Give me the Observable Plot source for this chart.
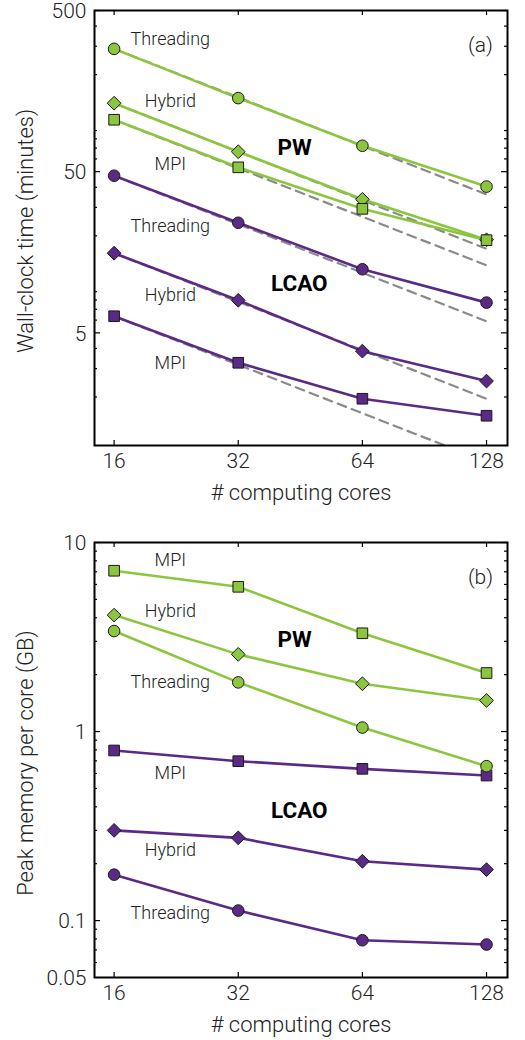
<!DOCTYPE html>
<html>
<head>
<meta charset="utf-8">
<script src="https://cdn.jsdelivr.net/npm/d3@7"></script>
<script src="https://cdn.jsdelivr.net/npm/@observablehq/plot@0.6"></script>
<style>
  html, body { margin: 0; padding: 0; background: #fff; }
  #chart svg { display: block; }
</style>
</head>
<body>
<div id="chart"></div>
<script>
// Number of computing cores on the x axis
const cores = [16, 32, 64, 128];

// (a) Wall-clock time in minutes
const timePwThreading   = [289, 143, 72.4, 40.4];
const timePwHybrid      = [133, 66.5, 33.7, 18.9];
const timePwMpi         = [105, 53.2, 29.4, 18.8];
const timeLcaoThreading = [47.2, 24.1, 12.4, 7.7];
const timeLcaoHybrid    = [15.6, 7.96, 3.85, 2.51];
const timeLcaoMpi       = [6.34, 3.26, 1.95, 1.53];

// (b) Peak memory per core in GB
const memPwMpi          = [7.09, 5.83, 3.31, 2.04];
const memPwHybrid       = [4.13, 2.56, 1.79, 1.46];
const memPwThreading    = [3.40, 1.82, 1.05, 0.656];
const memLcaoMpi        = [0.794, 0.697, 0.635, 0.585];
const memLcaoHybrid     = [0.300, 0.274, 0.206, 0.186];
const memLcaoThreading  = [0.175, 0.113, 0.0787, 0.0747];

// Tick values
const timeTickLabels = [5, 50, 500];
const timeMinorTicks = [2, 3, 4, 6, 7, 8, 9, 20, 30, 40, 60, 70, 80, 90, 200, 300, 400];
const memTickLabels  = [0.05, 0.1, 1, 10];
const memMajorTicks  = [0.1, 1, 10];
const memMinorTicks  = [0.06, 0.07, 0.08, 0.09, 0.2, 0.3, 0.4, 0.5, 0.6, 0.7, 0.8, 0.9,
                        2, 3, 4, 5, 6, 7, 8, 9];

// Series annotations
const methodNames = ["Threading", "Hybrid", "MPI"];
const timeLabelY  = [332, 137, 56, 22.9, 8.55, 3.24];       // PW ×3, LCAO ×3
const memLabelY   = [1.82, 4.32, 8.07, 0.109, 0.237, 0.6];  // PW ×3, LCAO ×3
const labelCores  = 21.9;

const GREEN = "#8cc63f";
const PURPLE = "#5b2a86";
const INK = "#222";
const symbols = {Threading: "circle", Hybrid: "diamond2", MPI: "square"};
const markerSize = {Threading: 5.8, Hybrid: 6.2, MPI: 6.0};

const WIDTH = 525, HEIGHT = 520, ML = 94, MR = 18;

function series(basis, method, values) {
  return values.map((v, i) => ({basis, method, key: basis + " " + method, cores: cores[i], value: v}));
}

// Ideal-scaling reference: time halves when cores double, anchored at 16 cores
function ideal(rows) {
  const first = rows[0];
  const last = cores[cores.length - 1];
  return [first, {...first, cores: last, value: first.value * cores[0] / last}];
}

const timeRows = [
  series("PW", "Threading", timePwThreading),
  series("PW", "Hybrid", timePwHybrid),
  series("PW", "MPI", timePwMpi),
  series("LCAO", "Threading", timeLcaoThreading),
  series("LCAO", "Hybrid", timeLcaoHybrid),
  series("LCAO", "MPI", timeLcaoMpi)
];
const memRows = [
  series("PW", "MPI", memPwMpi),
  series("PW", "Hybrid", memPwHybrid),
  series("PW", "Threading", memPwThreading),
  series("LCAO", "MPI", memLcaoMpi),
  series("LCAO", "Hybrid", memLcaoHybrid),
  series("LCAO", "Threading", memLcaoThreading)
];

const labelRows = (ys) => ys.map((y, i) => ({text: methodNames[i % 3], cores: labelCores, value: y}));

function panel({rows, withIdeal, yDomain, tickLabels, majorTicks, minorTicks, yLabel, tag, labels, pwY, lcaoY, marginTop, marginBottom}) {
  const flat = rows.flat();
  const fw = WIDTH - ML - MR;                   // frame width
  const fh = HEIGHT - marginTop - marginBottom; // frame height
  const marks = [];
  if (withIdeal) {
    for (const r of rows) {
      marks.push(Plot.line(ideal(r), {x: "cores", y: "value", stroke: "#8a8a8a", strokeWidth: 2.2, strokeDasharray: "9,6", clip: true}));
    }
  }
  marks.push(
    Plot.line(flat, {x: "cores", y: "value", z: "key", stroke: d => d.basis === "PW" ? GREEN : PURPLE, strokeWidth: 2.6}),
    Plot.dot(flat, {x: "cores", y: "value", r: d => markerSize[d.method],
      symbol: d => symbols[d.method], fill: d => d.basis === "PW" ? GREEN : PURPLE, stroke: "#1a1a1a", strokeWidth: 1}),
    Plot.text(labels, {x: "cores", y: "value", text: "text", fill: INK, fontSize: 18, fontWeight: 300}),
    Plot.text([{t: "PW", cores: 43.8, value: pwY}, {t: "LCAO", cores: 45, value: lcaoY}],
      {x: "cores", y: "value", text: "t", fill: "#000", fontSize: 22.5, fontWeight: "bold"}),
    Plot.text([tag], {frameAnchor: "top-right", textAnchor: "middle", lineAnchor: "middle", dx: -27, dy: 35, fontSize: 21, fontWeight: 300, fill: INK}),
    // Tick labels
    Plot.text(tickLabels, {y: d => d, text: d => String(d), frameAnchor: "left", textAnchor: "end", dx: -8, dy: 1, fontSize: 21, fontWeight: 300, fill: INK}),
    Plot.text(cores, {x: d => d, text: d => String(d), frameAnchor: "bottom", textAnchor: "middle", lineAnchor: "top", dy: 8, fontSize: 21, fontWeight: 300, fill: INK}),
    // Inward ticks on all four sides
    Plot.tickY(majorTicks, {y: d => d, insetRight: fw - 6, stroke: "#000", strokeWidth: 1.2}),
    Plot.tickY(minorTicks, {y: d => d, insetRight: fw - 3, stroke: "#000", strokeWidth: 1.2}),
    Plot.tickY(majorTicks, {y: d => d, insetLeft: fw - 6, stroke: "#000", strokeWidth: 1.2}),
    Plot.tickY(minorTicks, {y: d => d, insetLeft: fw - 3, stroke: "#000", strokeWidth: 1.2}),
    Plot.tickX(cores, {x: d => d, insetTop: fh - 5, stroke: "#000", strokeWidth: 1.2}),
    Plot.tickX(cores, {x: d => d, insetBottom: fh - 5, stroke: "#000", strokeWidth: 1.2}),
    Plot.frame({stroke: "#000", strokeWidth: 2}),
    // Axis titles
    Plot.text([yLabel], {frameAnchor: "left", textAnchor: "middle", lineAnchor: "middle", rotate: -90, dx: -69, dy: 3, fontSize: 22, fontWeight: 300, fill: INK}),
    Plot.text(["# computing cores"], {frameAnchor: "bottom", textAnchor: "middle", lineAnchor: "middle", dy: 47, fontSize: 22, fontWeight: 300, fill: INK})
  );
  return Plot.plot({
    width: WIDTH,
    height: HEIGHT,
    marginLeft: ML,
    marginRight: MR,
    marginTop,
    marginBottom,
    style: {fontFamily: "Roboto", fontSize: "18px", color: INK, background: "#fff", overflow: "visible"},
    x: {type: "log", domain: [14.34, 143.9], axis: null},
    y: {type: "log", domain: yDomain, axis: null},
    r: {type: "identity"},
    marks
  });
}

const chart = document.getElementById("chart");
chart.append(panel({
  rows: timeRows, withIdeal: true, yDomain: [1, 500],
  tickLabels: timeTickLabels, majorTicks: timeTickLabels, minorTicks: timeMinorTicks,
  yLabel: "Wall-clock time (minutes)", tag: "(a)",
  labels: labelRows(timeLabelY), pwY: 70.7, lcaoY: 10.1,
  marginTop: 10, marginBottom: 75
}));
chart.append(panel({
  rows: memRows, withIdeal: false, yDomain: [0.05, 10],
  tickLabels: memTickLabels, majorTicks: memMajorTicks, minorTicks: memMinorTicks,
  yLabel: "Peak memory per core (GB)", tag: "(b)",
  labels: labelRows(memLabelY), pwY: 3.06, lcaoY: 0.383,
  marginTop: 22, marginBottom: 63
}));
</script>
</body>
</html>
